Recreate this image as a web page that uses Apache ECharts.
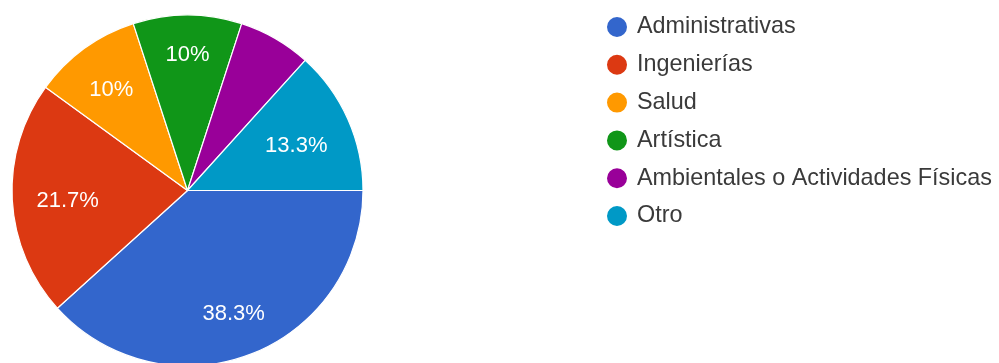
<!DOCTYPE html>
<html>
<head>
<meta charset="utf-8">
<script src="https://cdn.jsdelivr.net/npm/echarts@6/dist/echarts.min.js"></script>
<style>
  html, body { margin: 0; padding: 0; background: #ffffff; }
  #chart { width: 999px; height: 363px; }
</style>
</head>
<body>
<div id="chart"></div>
<script>
// Área de estudio preferida (porcentaje de respuestas)
const categories = [
  'Administrativas',
  'Ingenierías',
  'Salud',
  'Artística',
  'Ambientales o Actividades Físicas',
  'Otro'
];
const percentages = [38.3, 21.7, 10, 10, 6.7, 13.3];
const sliceColors = ['#3366cc', '#dc3912', '#ff9900', '#109618', '#990099', '#0099c6'];

// slices smaller than this get no value label
const minLabelPercent = 7;

const FONT = "'Liberation Sans', Arial, sans-serif";
const CENTER = [187.5, 190.5];
const RADIUS = 175.5;
// value labels are pushed outward until their outer corner reaches this distance
const LABEL_REACH = 152;
// glyphs sit a little low inside their text box
const LABEL_DROP = 4;

const sliceData = categories.map((name, i) => ({
  name,
  value: percentages[i],
  itemStyle: { color: sliceColors[i] },
  label: { show: percentages[i] >= minLabelPercent }
}));

// move each inside label along its slice's bisector
function placeLabel(params) {
  const r = params.labelRect;
  const cx = r.x + r.width / 2;
  const cy = r.y + r.height / 2;
  let ux = cx - CENTER[0];
  let uy = cy - CENTER[1];
  const len = Math.hypot(ux, uy) || 1;
  ux /= len; uy /= len;
  const hx = Math.sign(ux) * r.width / 2;
  const hy = Math.sign(uy) * r.height / 2;
  const uh = ux * hx + uy * hy;
  const d = -uh + Math.sqrt(Math.max(0, uh * uh - (hx * hx + hy * hy) + LABEL_REACH * LABEL_REACH));
  return {
    x: CENTER[0] + d * ux,
    y: CENTER[1] + d * uy + LABEL_DROP,
    align: 'center',
    verticalAlign: 'middle'
  };
}

const chart = echarts.init(document.getElementById('chart'), null, { renderer: 'canvas' });
chart.setOption({
  animation: false,
  backgroundColor: '#ffffff',
  color: sliceColors,
  legend: {
    orient: 'vertical',
    left: 605,
    top: 15,
    padding: 0,
    icon: 'circle',
    itemWidth: 22,
    itemHeight: 22,
    itemGap: 13.8,
    selectedMode: false,
    data: categories,
    textStyle: {
      fontFamily: FONT,
      fontSize: 23.4,
      color: '#3a3a3a',
      padding: [0, 0, 0, 4]
    }
  },
  series: [
    {
      type: 'pie',
      center: CENTER,
      radius: [0, RADIUS],
      startAngle: 0,
      clockwise: true,
      silent: true,
      labelLine: { show: false },
      itemStyle: { borderColor: '#ffffff', borderWidth: 1.2 },
      label: {
        position: 'inside',
        formatter: (p) => p.value + '%',
        color: '#ffffff',
        fontFamily: FONT,
        fontSize: 22
      },
      labelLayout: placeLabel,
      data: sliceData
    }
  ]
});
</script>
</body>
</html>
